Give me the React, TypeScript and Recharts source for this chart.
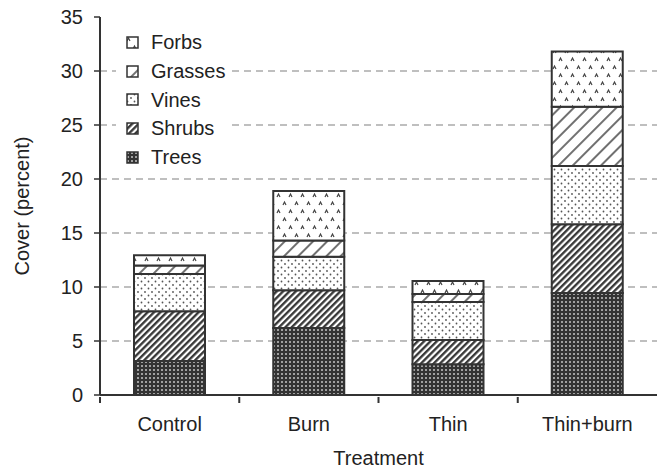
import React from 'react';
import {
    BarChart,
    Bar,
    XAxis,
    YAxis,
    CartesianGrid,
    Legend,
    Label
} from 'recharts';

const treatments = ['Control', 'Burn', 'Thin', 'Thin+burn'];
const trees = [3.15, 6.2, 2.85, 9.45];
const shrubs = [4.6, 3.5, 2.25, 6.35];
const vines = [3.45, 3.1, 3.5, 5.4];
const grasses = [0.8, 1.5, 0.75, 5.5];
const forbs = [0.95, 4.6, 1.2, 5.1];
const yTicks = [0, 5, 10, 15, 20, 25, 30, 35];
const gridValues = [5, 10, 15, 20, 25, 30];

const layers = [
    { key: 'Trees', fill: 'url(#pTrees)' },
    { key: 'Shrubs', fill: 'url(#pShrubs)' },
    { key: 'Vines', fill: 'url(#pVines)' },
    { key: 'Grasses', fill: 'url(#pGrasses)' },
    { key: 'Forbs', fill: 'url(#pForbs)' },
];

const data = treatments.map((t, i) => ({
    name: t,
    Trees: trees[i],
    Shrubs: shrubs[i],
    Vines: vines[i],
    Grasses: grasses[i],
    Forbs: forbs[i],
}));

const FONT = '"Liberation Sans", Arial, sans-serif';
const INK = '#333';
const FS = 20;

// category label in the middle, tick mark on the left edge of each band
const BandTick = (props: any) => {
    const { x, y, payload } = props;
    const half = payload.offset || 0;
    return (
        <g>
            <line x1={x - half} x2={x - half} y1={y} y2={y + 6} stroke={INK} strokeWidth={2} />
            <text x={x} y={y + 34} textAnchor="middle" fontSize={FS} fill="#222" fontFamily={FONT}>
                {payload.value}
            </text>
        </g>
    );
};

// legend lists the stack top-down, like the original figure
const LegendBox = () => {
    const items = [...layers].reverse();
    return (
        <div style={{ background: '#fff', padding: '0 6px 0 10px', fontFamily: FONT }}>
            {items.map((it) => (
                <div key={it.key} style={{ display: 'flex', alignItems: 'center', height: 28.7 }}>
                    <svg width={13} height={13} style={{ marginRight: 12 }}>
                        <rect x={1} y={1} width={11} height={11} fill={it.fill} stroke={INK} strokeWidth={1.5} />
                    </svg>
                    <span style={{ fontSize: FS, color: '#222', lineHeight: '20px' }}>{it.key}</span>
                </div>
            ))}
        </div>
    );
};

export default function App() {
    return (
        <div style={{ position: 'absolute', left: 0, top: 0, background: '#fff' }}>
            <BarChart
                width={662}
                height={469}
                data={data}
                margin={{ top: 17, right: 5, bottom: 0, left: 0 }}
            >
                <defs>
                    <pattern id="pTrees" width={4} height={4} patternUnits="userSpaceOnUse">
                        <rect width={4} height={4} fill="#333" />
                        <rect x={1} y={1} width={2} height={2} fill="#a0a0a0" />
                    </pattern>
                    <pattern id="pShrubs" width={4.5} height={4.5} patternUnits="userSpaceOnUse" patternTransform="rotate(45)">
                        <rect width={4.5} height={4.5} fill="#fff" />
                        <line x1={1.2} y1={0} x2={1.2} y2={4.5} stroke="#333" strokeWidth={2.3} />
                    </pattern>
                    <pattern id="pVines" width={7} height={7} patternUnits="userSpaceOnUse">
                        <rect width={7} height={7} fill="#fff" />
                        <circle cx={1.5} cy={1.5} r={0.9} fill="#555" />
                        <circle cx={5} cy={5} r={0.9} fill="#555" />
                    </pattern>
                    <pattern id="pGrasses" width={10} height={10} patternUnits="userSpaceOnUse" patternTransform="rotate(45)">
                        <rect width={10} height={10} fill="#fff" />
                        <line x1={2} y1={0} x2={2} y2={10} stroke="#333" strokeWidth={1.4} />
                    </pattern>
                    <pattern id="pForbs" width={12} height={16} patternUnits="userSpaceOnUse">
                        <rect width={12} height={16} fill="#fff" />
                        <path d="M1,5 L2.5,2 L4,5" fill="none" stroke="#444" strokeWidth={1.2} />
                        <path d="M7,13 L8.5,10 L10,13" fill="none" stroke="#444" strokeWidth={1.2} />
                    </pattern>
                </defs>
                <CartesianGrid
                    vertical={false}
                    horizontalValues={gridValues}
                    stroke="#aaa"
                    strokeWidth={1.5}
                    strokeDasharray="7 5"
                />
                <XAxis
                    dataKey="name"
                    height={74}
                    tickLine={false}
                    tick={<BandTick />}
                    axisLine={{ stroke: INK, strokeWidth: 2 }}
                    tickSize={0}
                    interval={0}
                >
                    <Label value="Treatment" position="insideBottom" offset={4} fontSize={FS} fill="#222" fontFamily={FONT} />
                </XAxis>
                <YAxis
                    width={100}
                    domain={[0, 35]}
                    ticks={yTicks}
                    interval={0}
                    tickSize={6}
                    tickMargin={11}
                    tick={{ fontSize: FS, fill: '#222', fontFamily: FONT }}
                    axisLine={{ stroke: INK, strokeWidth: 2 }}
                    tickLine={{ stroke: INK, strokeWidth: 1.5 }}
                >
                    <Label
                        content={(p: any) => {
                            const vb = p.viewBox;
                            const cx = vb.x + 22;
                            const cy = vb.y + vb.height / 2;
                            return (
                                <text
                                    x={cx}
                                    y={cy}
                                    transform={`rotate(-90, ${cx}, ${cy})`}
                                    textAnchor="middle"
                                    dominantBaseline="central"
                                    fontSize={FS}
                                    fill="#222"
                                    fontFamily={FONT}
                                >
                                    Cover (percent)
                                </text>
                            );
                        }}
                    />
                </YAxis>
                <Legend
                    layout="vertical"
                    align="center"
                    verticalAlign="middle"
                    content={<LegendBox />}
                    wrapperStyle={{ left: 116, top: 28, width: 'auto' }}
                />
                {layers.map((l) => (
                    <Bar
                        key={l.key}
                        dataKey={l.key}
                        stackId="cover"
                        fill={l.fill}
                        stroke={INK}
                        strokeWidth={2}
                        barSize={71}
                        isAnimationActive={false}
                    />
                ))}
            </BarChart>
        </div>
    );
}
